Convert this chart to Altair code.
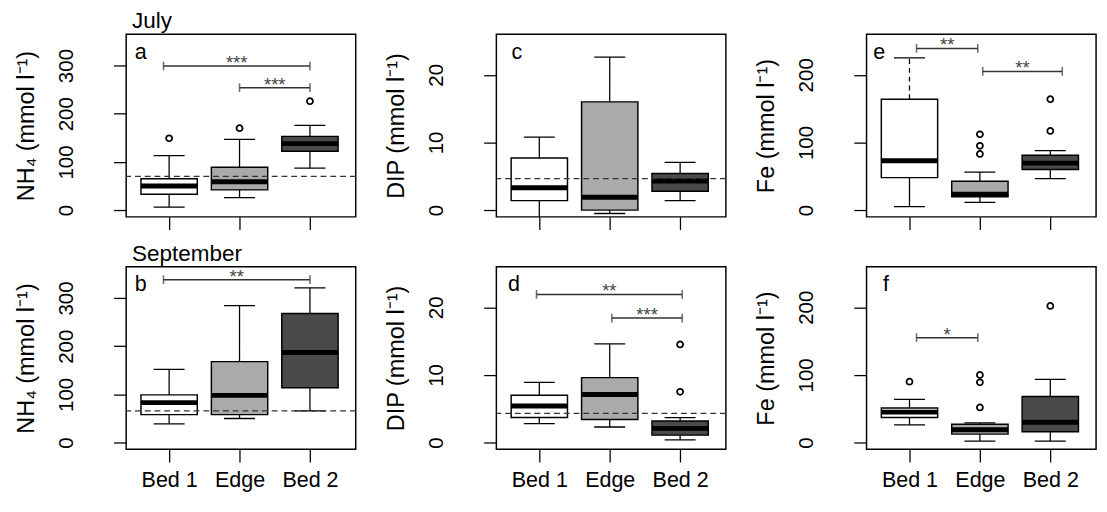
import altair as alt
import pandas as pd

FONT = "Liberation Sans"
groups = ["Bed 1", "Edge", "Bed 2"]
positions = [1, 2, 3]
fills = ["#ffffff", "#aaaaaa", "#4a4a4a"]

# (a) NH4, July
a_lo = [6, 26, 87]
a_q1 = [33, 42, 122]
a_med = [50, 59, 138]
a_q3 = [65, 89, 153]
a_hi = [113, 147, 176]
a_out_grp = ["Bed 1", "Edge", "Bed 2"]
a_out_val = [149, 170, 226]
a_ref = [70]
a_sig_from = [0.92, 2.0]
a_sig_to = [3.0, 3.0]
a_sig_y = [299, 254]
a_sig_lab = ["***", "***"]

# (b) NH4, September
b_lo = [39, 50, 66]
b_q1 = [58, 58, 114]
b_med = [83, 98, 187]
b_q3 = [99, 168, 268]
b_hi = [152, 284, 321]
b_out_grp = []
b_out_val = []
b_ref = [66]
b_sig_from = [0.92]
b_sig_to = [3.0]
b_sig_y = [338]
b_sig_lab = ["**"]

# (c) DIP, July
c_lo = [-1.3, -0.5, 1.4]
c_q1 = [1.4, 0.0, 2.8]
c_med = [3.3, 1.9, 4.3]
c_q3 = [7.7, 16.0, 5.4]
c_hi = [10.8, 22.6, 7.05]
c_out_grp = []
c_out_val = []
c_ref = [4.65]
c_sig_from = []
c_sig_to = []
c_sig_y = []
c_sig_lab = []

# (d) DIP, September
d_lo = [2.8, 2.3, 0.4]
d_q1 = [3.7, 3.4, 1.1]
d_med = [5.4, 7.1, 2.1]
d_q3 = [7.0, 9.6, 3.2]
d_hi = [8.9, 14.6, 3.7]
d_out_grp = ["Bed 2", "Bed 2"]
d_out_val = [7.5, 14.5]
d_ref = [4.3]
d_sig_from = [0.96, 2.03]
d_sig_to = [3.03, 3.03]
d_sig_y = [21.9, 18.4]
d_sig_lab = ["**", "***"]

# (e) Fe, July
e_lo = [5, 11.5, 46.5]
e_q1 = [48, 19.7, 60]
e_med = [73, 23.5, 69.5]
e_q3 = [164, 42.7, 81]
e_hi = [225, 56, 88]
e_hi_style = ["dashed", "solid", "solid"]
e_out_grp = ["Edge", "Edge", "Edge", "Bed 2", "Bed 2"]
e_out_val = [83, 95, 112, 117, 164]
e_ref = []
e_sig_from = [1.1, 2.04]
e_sig_to = [1.97, 3.17]
e_sig_y = [239, 205]
e_sig_lab = ["**", "**"]

# (f) Fe, September
f_lo = [26, 2, 2]
f_q1 = [37, 12.5, 16]
f_med = [45, 19, 30]
f_q3 = [51, 27, 68]
f_hi = [64, 29, 93.5]
f_out_grp = ["Bed 1", "Edge", "Edge", "Edge", "Bed 2"]
f_out_val = [90, 52, 89, 100, 202]
f_ref = []
f_sig_from = [1.1]
f_sig_to = [1.97]
f_sig_y = [155]
f_sig_lab = ["*"]

solid = ["solid", "solid", "solid"]
label_expr = " : ".join(
    f"datum.value == {p} ? '{g}'" for p, g in zip(positions, groups)
) + " : ''"


def panel(letter, lo, q1, med, q3, hi, hs, out_grp, out_val, ref,
          sig_from, sig_to, sig_y, sig_lab, ydomain, yticks, ytitle,
          bottom, letter_x, month=None):
    xs = alt.Scale(domain=[0.39, 3.65], nice=False, zero=False)
    ys = alt.Scale(domain=ydomain, nice=False, zero=False)
    xaxis = alt.Axis(values=positions, labelExpr=label_expr, labels=bottom,
                     title=None, grid=False, labelPadding=8, labelFontSize=22)
    yaxis = alt.Axis(values=yticks, title=ytitle, grid=False, labelAngle=-90,
                     labelAlign="center", labelBaseline="alphabetic",
                     labelPadding=42, titlePadding=18)

    def X(f):
        return alt.X(f, type="quantitative", scale=xs, axis=xaxis)

    def Y(f):
        return alt.Y(f, type="quantitative", scale=ys, axis=yaxis)

    box = pd.DataFrame({"group": groups, "pos": positions, "lo": lo, "q1": q1,
                        "med": med, "q3": q3, "hi": hi, "hs": hs})
    base = alt.Chart(box)
    layers = []
    layers.append(base.mark_rule(color="black", strokeWidth=1.3, clip=True).encode(
        x=X("pos"), y=Y("lo"), y2=alt.Y2("q1")))
    layers.append(base.mark_rule(color="black", strokeWidth=1.3, clip=True).encode(
        x=X("pos"), y=Y("q3"), y2=alt.Y2("hi"),
        strokeDash=alt.StrokeDash("hs:N", scale=alt.Scale(domain=["solid", "dashed"],
                                                          range=[[1, 0], [5, 4]]), legend=None)))
    capped = base.transform_calculate(c1="datum.pos - 0.22", c2="datum.pos + 0.22")
    layers.append(capped.mark_rule(color="black", strokeWidth=1.3, clip=True).encode(
        x=X("c1:Q"), x2=alt.X2("c2:Q"), y=Y("lo")))
    layers.append(capped.mark_rule(color="black", strokeWidth=1.3, clip=True).encode(
        x=X("c1:Q"), x2=alt.X2("c2:Q"), y=Y("hi")))
    boxed = base.transform_calculate(b1="datum.pos - 0.4", b2="datum.pos + 0.4")
    layers.append(boxed.mark_rect(stroke="black", strokeWidth=1.5, clip=True).encode(
        x=X("b1:Q"), x2=alt.X2("b2:Q"), y=Y("q1"), y2=alt.Y2("q3"),
        fill=alt.Fill("group:N", scale=alt.Scale(domain=groups, range=fills), legend=None)))
    layers.append(boxed.mark_rule(color="black", strokeWidth=5, strokeCap="butt").encode(
        x=X("b1:Q"), x2=alt.X2("b2:Q"), y=Y("med")))
    if out_val:
        outs = pd.DataFrame({"pos": [positions[groups.index(g)] for g in out_grp],
                             "v": out_val})
        layers.append(alt.Chart(outs).mark_point(shape="circle", filled=False, color="black",
                                                 strokeWidth=1.8, size=38, opacity=1).encode(
            x=X("pos"), y=Y("v")))
    if ref:
        layers.append(alt.Chart(pd.DataFrame({"ref": ref})).mark_rule(
            color="#333333", strokeWidth=1.3, strokeDash=[6, 4]).encode(y=Y("ref")))
    if sig_y:
        sig = pd.DataFrame({"x_from": sig_from, "x_to": sig_to, "y": sig_y, "lab": sig_lab})
        sb = alt.Chart(sig)
        layers.append(sb.mark_rule(color="#333333", strokeWidth=1.5).encode(
            x=X("x_from"), x2=alt.X2("x_to"), y=Y("y")))
        layers.append(sb.transform_fold(["x_from", "x_to"], as_=["k", "xv"]).mark_tick(
            orient="vertical", size=9, thickness=1.6, color="#333333").encode(
            x=X("xv:Q"), y=Y("y")))
        layers.append(sb.transform_calculate(mid="(datum.x_from + datum.x_to) / 2").mark_text(
            font=FONT, fontSize=19, color="#444444", baseline="alphabetic", align="center",
            dy=3).encode(x=X("mid:Q"), y=Y("y"), text="lab:N"))
    layers.append(alt.Chart(pd.DataFrame({"t": [letter]})).mark_text(
        font=FONT, fontSize=22, color="black", align="center", baseline="alphabetic").encode(
        text="t:N", x=alt.value(letter_x), y=alt.value(25)))
    if month:
        layers.append(alt.Chart(pd.DataFrame({"m": [month]})).mark_text(
            font=FONT, fontSize=23, color="black", align="left", baseline="alphabetic").encode(
            text="m:N", x=alt.value(6), y=alt.value(-6)))
    return alt.layer(*layers).properties(width=235, height=187)


nh4 = "NH\u2084 (mmol l\u207b\u00b9)"
dip = "DIP (mmol l\u207b\u00b9)"
fe = "Fe (mmol l\u207b\u00b9)"

pa = panel("a", a_lo, a_q1, a_med, a_q3, a_hi, solid, a_out_grp, a_out_val, a_ref,
           a_sig_from, a_sig_to, a_sig_y, a_sig_lab, [-14, 365], [0, 100, 200, 300], nh4,
           False, 15, "July")
pb = panel("b", b_lo, b_q1, b_med, b_q3, b_hi, solid, b_out_grp, b_out_val, b_ref,
           b_sig_from, b_sig_to, b_sig_y, b_sig_lab, [-14, 365], [0, 100, 200, 300], nh4,
           True, 15, "September")
pc = panel("c", c_lo, c_q1, c_med, c_q3, c_hi, solid, c_out_grp, c_out_val, c_ref,
           c_sig_from, c_sig_to, c_sig_y, c_sig_lab, [-1, 26], [0, 10, 20], dip,
           False, 21)
pd_ = panel("d", d_lo, d_q1, d_med, d_q3, d_hi, solid, d_out_grp, d_out_val, d_ref,
            d_sig_from, d_sig_to, d_sig_y, d_sig_lab, [-1, 26], [0, 10, 20], dip,
            True, 18)
pe = panel("e", e_lo, e_q1, e_med, e_q3, e_hi, e_hi_style, e_out_grp, e_out_val, e_ref,
           e_sig_from, e_sig_to, e_sig_y, e_sig_lab, [-10, 260], [0, 100, 200], fe,
           False, 13)
pf = panel("f", f_lo, f_q1, f_med, f_q3, f_hi, solid, f_out_grp, f_out_val, f_ref,
           f_sig_from, f_sig_to, f_sig_y, f_sig_lab, [-10, 260], [0, 100, 200], fe,
           True, 20)

chart = alt.concat(pa, pc, pe, pb, pd_, pf, columns=3,
                   spacing={"row": 51, "column": 144}, bounds="flush").properties(
    padding={"left": 6, "top": -4, "right": 2, "bottom": 2}
).configure_view(
    stroke="black", strokeWidth=1.5
).configure_axis(
    domain=False, grid=False, tickColor="black", tickWidth=1.3, tickSize=13,
    labelFont=FONT, labelFontSize=21, labelColor="black",
    titleFont=FONT, titleFontSize=24, titleColor="black", titleFontWeight="normal"
)

chart.save("out.html", embed_options={"renderer": "svg", "actions": False})
